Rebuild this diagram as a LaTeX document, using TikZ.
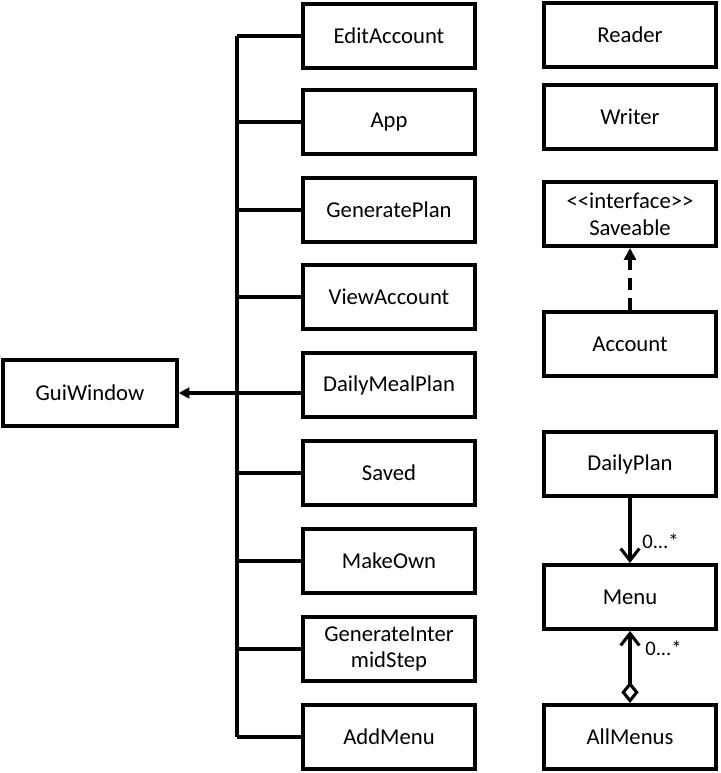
\documentclass[tikz,border=0pt]{standalone}
\usepackage{fontspec}
\setmainfont{Carlito}
\usetikzlibrary{arrows.meta}
\begin{document}
\begin{tikzpicture}[x=0.75pt,y=-0.75pt,
 box/.style={draw, line width=3pt, minimum width=129pt, minimum height=48pt, align=center,
   font=\fontsize{17}{20}\selectfont, inner sep=0pt},
 conn/.style={line width=2.3pt},
 mult/.style={font=\fontsize{15.5}{17}\selectfont, anchor=west, inner sep=0pt}]
\useasboundingbox (0,0) rectangle (720,773);
% left column
\node[box] (e1) at (389,36) {EditAccount};
\node[box] (e2) at (389,122) {App};
\node[box] (e3) at (389,210) {GeneratePlan};
\node[box] (e4) at (389,297) {ViewAccount};
\node[box] (e5) at (389,385) {DailyMealPlan};
\node[box] (e6) at (389,473) {Saved};
\node[box] (e7) at (389,561) {MakeOwn};
\node[box] (e8) at (389,649) {GenerateInter\\midStep};
\node[box] (e9) at (389,737) {AddMenu};
\node[box, minimum width=130pt, minimum height=49pt] (gui) at (90,393) {GuiWindow};
% bus
\coordinate (btop) at (237,36);
\coordinate (bbot) at (237,737);
\draw[conn] (btop) -- (bbot);
\foreach \i in {1,2,3,4,6,7,8,9} {
  \draw[conn] (e\i.west -| btop) -- (e\i.west);
}
\draw[conn, -{Triangle[length=8pt,width=8pt]}] (e5.west |- gui.east) -- (gui.east);
% right column
\node[box] (reader) at (630,35) {Reader};
\node[box] (writer) at (630,117) {Writer};
\node[box] (save) at (630,214) {{<}{<}interface{>}{>}\\Saveable};
\node[box] (acc) at (630,344) {Account};
\node[box] (dp) at (630,464) {DailyPlan};
\node[box] (menu) at (630,597) {Menu};
\node[box] (all) at (630,737) {AllMenus};
\draw[conn, dash pattern=on 9pt off 6pt, -{Triangle[length=9pt,width=9pt]}] (acc.north) -- (save.south);
\draw[conn, -{Straight Barb[length=9pt,width=14pt,line width=2.3pt]}] (dp.south) -- (menu.north);
\draw[conn, {Diamond[open,length=16pt,width=13pt,line width=2.3pt]}-{Straight Barb[length=9pt,width=14pt,line width=2.3pt]}] (all.north) -- (menu.south);
\node[mult] (m1) at (642,541) {0...*};
\node[mult] (m2) at (645,648) {0...*};
\end{tikzpicture}
\end{document}
